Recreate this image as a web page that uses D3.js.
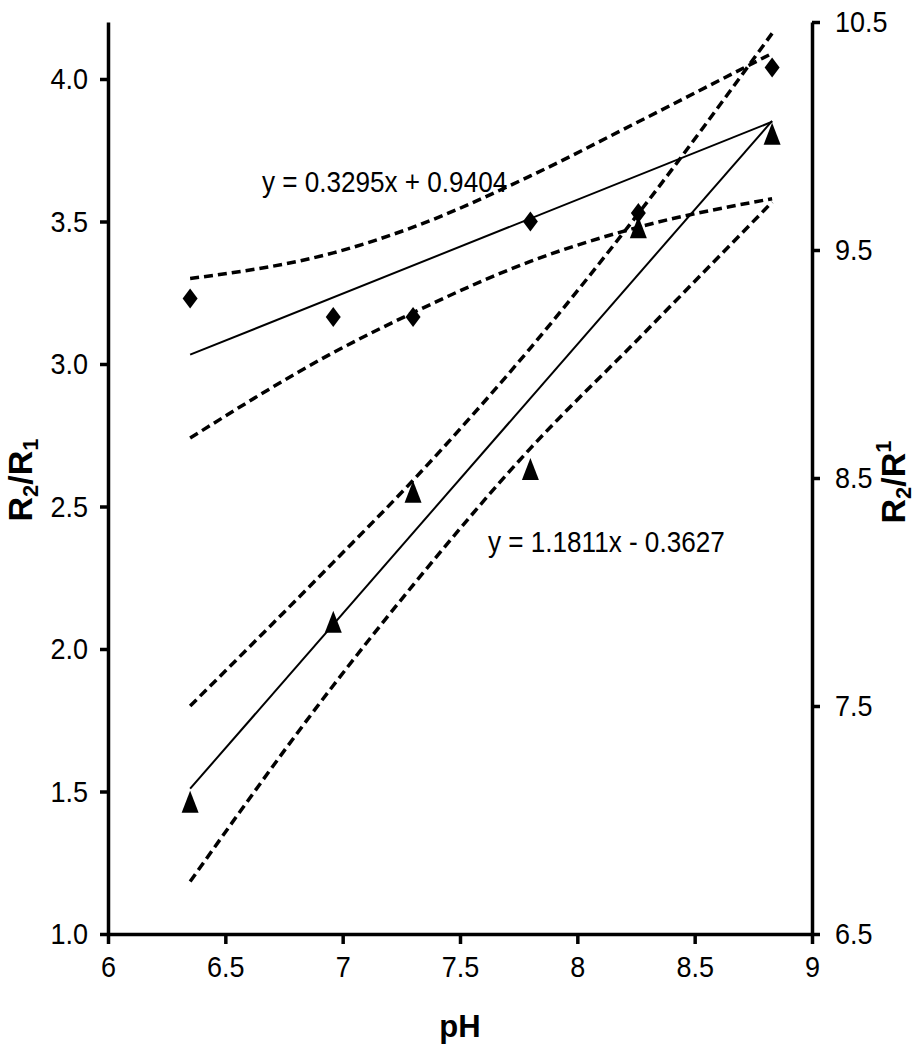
<!DOCTYPE html>
<html lang="en">
<head>
<meta charset="utf-8">
<title>R2/R1 vs pH</title>
<script src="https://d3js.org/d3.v7.min.js"></script>
<style>
  body { margin: 0; background: #fff; }
  text { font-family: "Liberation Sans", Arial, sans-serif; fill: #000; }
</style>
</head>
<body>
<svg id="chart" width="920" height="1050"></svg>
<script>
// pH values of the six samples
const ph = [6.35, 6.96, 7.30, 7.80, 8.26, 8.83];

// diamonds, left axis
const ratioLeft = [3.23, 3.165, 3.165, 3.50, 3.53, 4.04];
const bandLeftUp = [3.30, 3.39, 3.48, 3.66, 3.85, 4.09];
const bandLeftLo = [2.74, 3.04, 3.18, 3.36, 3.48, 3.58];

// triangles, right axis
const ratioRight = [7.08, 7.87, 8.44, 8.54, 9.60, 10.01];
const bandRightUp = [7.50, 8.13, 8.49, 9.07, 9.66, 10.45];
const bandRightLo = [6.73, 7.59, 8.03, 8.63, 9.11, 9.71];

// trend lines (from the printed equations)
const fitLeft = { a: 0.3295, b: 0.9404, label: "y = 0.3295x + 0.9404" };
const fitRight = { a: 1.1811, b: -0.3627, label: "y = 1.1811x - 0.3627" };

const xTicks = [6, 6.5, 7, 7.5, 8, 8.5, 9];
const yLeftTicks = [1.0, 1.5, 2.0, 2.5, 3.0, 3.5, 4.0];
const yRightTicks = [6.5, 7.5, 8.5, 9.5, 10.5];

const svg = d3.select("#chart");
svg.append("rect").attr("width", 920).attr("height", 1050).attr("fill", "#fff");

const x = d3.scaleLinear().domain([6, 9]).range([108, 812]);
const yL = d3.scaleLinear().domain([1, 4.2]).range([934, 22]);
const yR = d3.scaleLinear().domain([6.5, 10.5]).range([934, 22]);

const NARROW = 0.9; // text in the picture is a bit condensed

function squeeze(sel) {
  sel.selectAll("text").each(function () {
    const t = d3.select(this);
    const xx = +t.attr("x") || 0;
    t.attr("x", xx / NARROW).attr("transform", `scale(${NARROW},1)`);
  });
}

function styleAxis(g) {
  g.select(".domain").attr("stroke", "#000").attr("stroke-width", 3.5);
  g.selectAll(".tick line").attr("stroke", "#000").attr("stroke-width", 3.5);
  g.selectAll(".tick text").attr("font-size", 30).attr("fill", "#000");
  g.attr("font-family", null);
  squeeze(g);
}

svg.append("g")
  .attr("transform", "translate(0,934)")
  .call(d3.axisBottom(x).tickValues(xTicks).tickFormat(d => String(d))
    .tickSize(10).tickSizeOuter(0).tickPadding(12))
  .call(styleAxis);

svg.append("g")
  .attr("transform", "translate(108,0)")
  .call(d3.axisLeft(yL).tickValues(yLeftTicks).tickFormat(d3.format(".1f"))
    .tickSize(8).tickSizeOuter(0).tickPadding(12))
  .call(styleAxis);

svg.append("g")
  .attr("transform", "translate(812,0)")
  .call(d3.axisRight(yR).tickValues(yRightTicks).tickFormat(d3.format(".1f"))
    .tickSize(8).tickSizeOuter(0).tickPadding(15))
  .call(styleAxis);

// axis titles
svg.append("text")
  .attr("x", 460).attr("y", 1037)
  .attr("text-anchor", "middle")
  .attr("font-size", 31).attr("font-weight", "bold")
  .text("pH");

const tl = svg.append("text")
  .attr("transform", "translate(32,480) rotate(-90)")
  .attr("text-anchor", "middle")
  .attr("font-size", 34).attr("font-weight", "bold");
tl.append("tspan").text("R");
tl.append("tspan").attr("font-size", 22).attr("dy", 6).text("2");
tl.append("tspan").attr("dy", -6).text("/R");
tl.append("tspan").attr("font-size", 22).attr("dy", 6).text("1");

const tr = svg.append("text")
  .attr("transform", "translate(905,482) rotate(-90)")
  .attr("text-anchor", "middle")
  .attr("font-size", 34).attr("font-weight", "bold");
tr.append("tspan").text("R");
tr.append("tspan").attr("font-size", 22).attr("dy", 6).text("2");
tr.append("tspan").attr("dy", -6).text("/R");
tr.append("tspan").attr("font-size", 22).attr("dy", -14).text("1");

// lines
const lineL = d3.line().x(d => x(d[0])).y(d => yL(d[1]));
const lineR = d3.line().x(d => x(d[0])).y(d => yR(d[1]));
const smoothL = d3.line().curve(d3.curveMonotoneX).x(d => x(d[0])).y(d => yL(d[1]));
const smoothR = d3.line().curve(d3.curveMonotoneX).x(d => x(d[0])).y(d => yR(d[1]));

function dashed(gen, vals) {
  svg.append("path")
    .datum(ph.map((p, i) => [p, vals[i]]))
    .attr("d", gen)
    .attr("fill", "none").attr("stroke", "#000")
    .attr("stroke-width", 3.5).attr("stroke-dasharray", "9,5");
}
dashed(smoothL, bandLeftUp);
dashed(smoothL, bandLeftLo);
dashed(smoothR, bandRightUp);
dashed(smoothR, bandRightLo);

const ends = d3.extent(ph);
svg.append("path")
  .datum(ends.map(p => [p, fitLeft.a * p + fitLeft.b]))
  .attr("d", lineL).attr("fill", "none").attr("stroke", "#000").attr("stroke-width", 2);
svg.append("path")
  .datum(ends.map(p => [p, fitRight.a * p + fitRight.b]))
  .attr("d", lineR).attr("fill", "none").attr("stroke", "#000").attr("stroke-width", 2);

// markers
svg.append("g").selectAll("path")
  .data(ph.map((p, i) => [p, ratioLeft[i]]))
  .join("path")
  .attr("transform", d => `translate(${x(d[0])},${yL(d[1])})`)
  .attr("d", "M0,-10L7.5,0L0,10L-7.5,0Z")
  .attr("fill", "#000");

svg.append("g").selectAll("path")
  .data(ph.map((p, i) => [p, ratioRight[i]]))
  .join("path")
  .attr("transform", d => `translate(${x(d[0])},${yR(d[1])})`)
  .attr("d", "M0,-11L8.5,11L-8.5,11Z")
  .attr("fill", "#000");

// equations
svg.append("text")
  .attr("transform", `translate(262,192) scale(${NARROW},1)`)
  .attr("font-size", 29)
  .text(fitLeft.label);
svg.append("text")
  .attr("transform", `translate(488,552) scale(${NARROW},1)`)
  .attr("font-size", 29)
  .text(fitRight.label);
</script>
</body>
</html>
